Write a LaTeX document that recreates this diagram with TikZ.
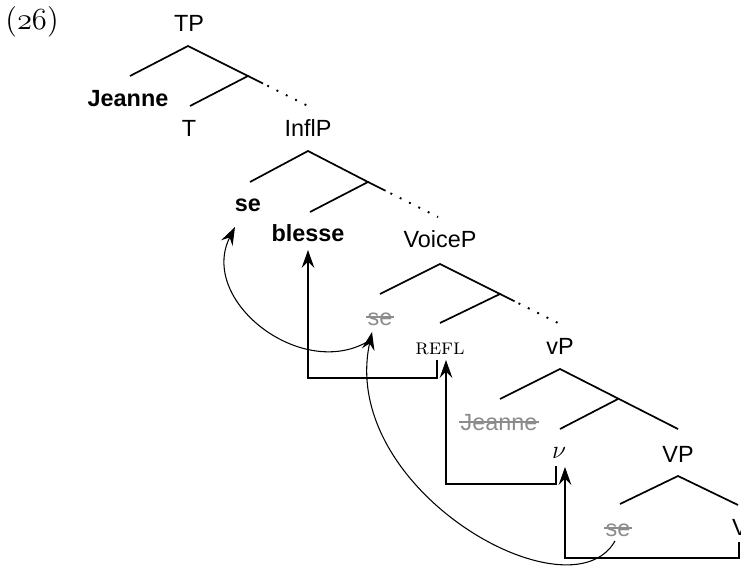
\documentclass[tikz,border=0pt]{standalone}
\usepackage{fontspec}
\usetikzlibrary{arrows.meta, calc}
\newfontfamily\treefont{Liberation Sans}
\definecolor{traceGrey}{gray}{0.55}
\newcommand{\strucktext}[1]{{\color{traceGrey}\setbox0\hbox{#1}%
  \rlap{\kern-0.8pt\rule[0.3em]{\dimexpr\wd0+1.6pt\relax}{0.7pt}}\box0}}

\begin{document}
\begin{tikzpicture}[
  x=0.47pt, y=-0.47pt,
  every node/.style={anchor=base, inner sep=0pt},
  cat/.style={font=\treefont\fontsize{11}{13}\selectfont},
  word/.style={font=\treefont\bfseries\fontsize{11}{13}\selectfont},
  gloss/.style={font=\fontsize{10.5}{12}\selectfont},
  branch/.style={line width=0.8pt},
  dotbranch/.style={line width=0.9pt, dash pattern=on 0.9pt off 4pt},
  move/.style={line width=0.5pt, -{Stealth[length=8.5pt,width=6pt,inset=3pt]}}
  ]
  \useasboundingbox (0,0) rectangle (741,569);

  % Example number
  \node (exnum) at (32,30) {\fontsize{14.5}{16}\selectfont$(\mathnormal{26})$};

  % TP
  \node (tp) [cat] at (189,32) {TP};
  \node (jeanne) [word] at (128,107) {Jeanne};
  \node (t) [cat] at (189,137) {T};
  \node (inflp) [cat] at (308,137) {InflP};
  \coordinate (tpA) at (188,46);
  \coordinate (tpL) at (130,76);
  \coordinate (tpB) at (248,76);
  \coordinate (tpBL) at (190,106);
  \coordinate (tpBR) at (308,106);
  \draw [branch] (tpL) -- (tpA) -- (tpB) -- (tpBL);
  \draw [branch] (tpB) -- ($(tpB)!0.25!(tpBR)$);
  \draw [dotbranch] ($(tpB)!0.32!(tpBR)$) -- (tpBR);

  % InflP
  \node (se1) [word] at (248,212) {se};
  \node (blesse) [word] at (308,242) {blesse};
  \node (voicep) [cat] at (440,248) {VoiceP};
  \coordinate (inA) at (308,151);
  \coordinate (inL) at (250,182);
  \coordinate (inB) at (368,182);
  \coordinate (inBL) at (310,212);
  \coordinate (inBR) at (438,217);
  \draw [branch] (inL) -- (inA) -- (inB) -- (inBL);
  \draw [branch] (inB) -- ($(inB)!0.25!(inBR)$);
  \draw [dotbranch] ($(inB)!0.32!(inBR)$) -- (inBR);

  % VoiceP
  \node (se3) [cat] at (380,325) {\strucktext{se}};
  \node (refl) [gloss] at (440,354) {\textsc{refl}};
  \node (vp) [cat] at (560,355) {vP};
  \coordinate (voA) at (440,264);
  \coordinate (voL) at (380,294);
  \coordinate (voB) at (500,294);
  \coordinate (voBL) at (440,323);
  \coordinate (voBR) at (558,323);
  \draw [branch] (voL) -- (voA) -- (voB) -- (voBL);
  \draw [branch] (voB) -- ($(voB)!0.25!(voBR)$);
  \draw [dotbranch] ($(voB)!0.32!(voBR)$) -- (voBR);

  % vP
  \node (jeanne4) [cat] at (499,430) {\strucktext{Jeanne}};
  \node (nu) at (559,458) {\fontsize{12.5}{14}\selectfont$\nu$};
  \node (bigvp) [cat] at (678,462) {VP};
  \coordinate (vA) at (560,369);
  \coordinate (vL) at (500,399);
  \coordinate (vB) at (618,399);
  \coordinate (vBL) at (560,429);
  \coordinate (vBR) at (678,429);
  \draw [branch] (vL) -- (vA) -- (vBR);
  \draw [branch] (vB) -- (vBL);

  % VP
  \node (se5) [cat] at (618,536) {\strucktext{se}};
  \node (verb) [cat] at (740,535) {V};
  \coordinate (bvA) at (678,476);
  \coordinate (bvL) at (620,504);
  \coordinate (bvR) at (738,505);
  \draw [branch] (bvL) -- (bvA) -- (bvR);

  % Head movement
  \draw [move] ($(refl.base)+(-3,6)$) -- ++(0,18) -| ($(blesse.base)+(0,8)$);
  \draw [move] ($(nu.base)+(-3,8)$) -- ++(0,18) -| ($(refl.base)+(6,6)$);
  \draw [move] ($(verb.base)+(-1,7)$) -- ++(0,16) -| ($(nu.base)+(6,9)$);

  % Clitic movement
  \draw [move] ($(se3.base)+(-13,17)$) .. controls (300,380) and (198,300) .. ($(se1.base)+(-13,15)$);
  \draw [move] ($(se5.base)+(-3,5)$) .. controls (570,620) and (338,490) .. ($(se3.base)+(-8,7)$);
\end{tikzpicture}
\end{document}
